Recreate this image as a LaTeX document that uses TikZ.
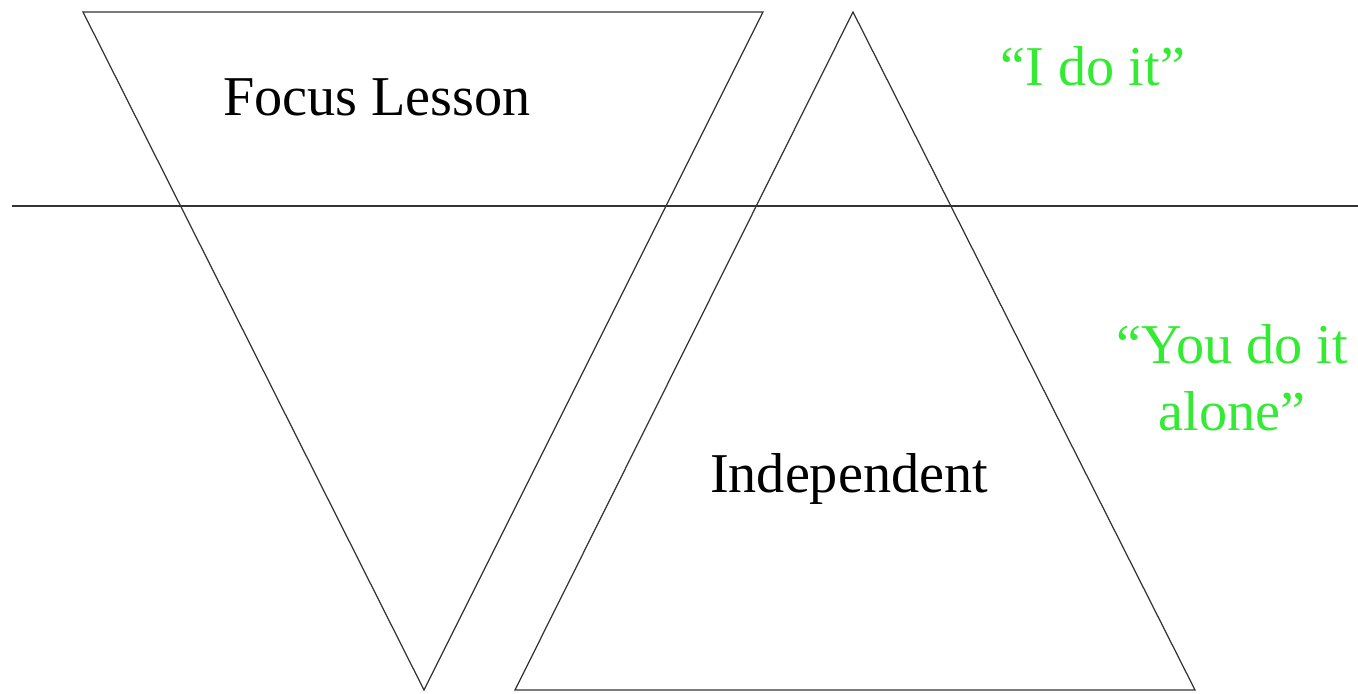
\documentclass[tikz,border=0pt]{standalone}
\usepackage{fontspec}
\setmainfont{Liberation Serif}
\usepackage{xcolor}
\definecolor{saygreen}{RGB}{51,235,51}
\usetikzlibrary{positioning}

\begin{document}
\begin{tikzpicture}[
  x=0.02cm, y=-0.02cm,
  every node/.style={font=\fontsize{32}{38}\selectfont, inner sep=0pt},
  edge/.style={draw=black!80, line width=0.7pt, line join=miter},
  say/.style={text=saygreen, align=center},
]
  \useasboundingbox (0,0) rectangle (1358,693);

  % inverted triangle (focus lesson)
  \coordinate (fl-tl) at (83,12);
  \coordinate (fl-tr) at (763,12);
  \coordinate (fl-b)  at (424,690);
  \draw[edge] (fl-tl) -- (fl-tr) -- (fl-b) -- cycle;

  % upright triangle (independent)
  \coordinate (in-t)  at (853,12);
  \coordinate (in-bl) at (515,690);
  \coordinate (in-br) at (1195,690);
  \draw[edge] (in-t) -- (in-br) -- (in-bl) -- cycle;

  % dividing line
  \coordinate (div-l) at (12,206);
  \coordinate (div-r) at (1358,206);
  \draw[edge] (div-l) -- (div-r);

  \node[anchor=base] (focus) at (377,115) {Focus Lesson};
  \node[anchor=base] (indep) at (849,492) {Independent};

  \node[say, anchor=base] (ido)   at (1093,85)  {“I do it”};
  \node[say, anchor=base] (youdo) at (1232,430) {“You do it\\alone”};
\end{tikzpicture}
\end{document}
